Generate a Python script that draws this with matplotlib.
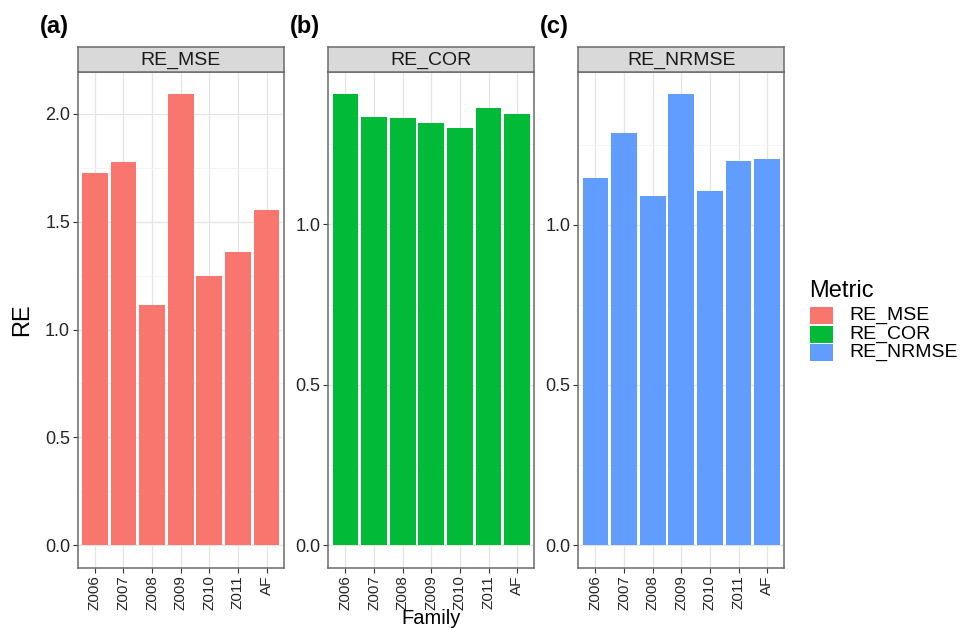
import numpy as np
import matplotlib.pyplot as plt
from matplotlib.patches import Rectangle

# ---- data ----
families = ["Z006", "Z007", "Z008", "Z009", "Z010", "Z011", "AF"]
re_mse = [1.728, 1.776, 1.113, 2.091, 1.249, 1.361, 1.552]
re_cor = [1.406, 1.335, 1.332, 1.317, 1.302, 1.363, 1.343]
re_nrmse = [1.145, 1.287, 1.088, 1.407, 1.106, 1.199, 1.206]
metrics = ["RE_MSE", "RE_COR", "RE_NRMSE"]
colors = ["#F8766D", "#00BA38", "#619CFF"]
panel_tags = ["(a)", "(b)", "(c)"]
major_ticks = [[0.0, 0.5, 1.0, 1.5, 2.0], [0.0, 0.5, 1.0], [0.0, 0.5, 1.0]]

plt.rcParams.update({"font.family": "Liberation Sans"})

W, H = 970, 629
fig = plt.figure(figsize=(W / 100, H / 100), dpi=100)

def fx(px):
    return px / W

def fy(py):
    return 1 - py / H

lefts = [77.7, 328.3, 578.3]
pw = 206.0
p_top, p_bot, s_top = 71.7, 567.7, 47.3
border = "#6b6b6b"

for i, (vals, name, col) in enumerate(zip([re_mse, re_cor, re_nrmse], metrics, colors)):
    ax = fig.add_axes([fx(lefts[i]), fy(p_bot), fx(pw), (p_bot - p_top) / H])
    x = np.arange(len(families))
    ax.bar(x, vals, width=0.9, color=col, zorder=3)
    vmax = max(vals)
    ax.set_ylim(-0.05 * vmax, 1.05 * vmax)
    ax.set_xlim(-0.6, len(families) - 0.4)
    ax.set_xticks(x)
    ax.set_xticklabels(families, rotation=90, fontsize=11, color="#262626")
    ax.set_yticks(major_ticks[i])
    ax.set_yticklabels([f"{t:.1f}" for t in major_ticks[i]], fontsize=13, color="#262626")
    minors = [t + 0.25 for t in major_ticks[i] if t + 0.25 < 1.05 * vmax]
    ax.set_yticks(minors, minor=True)
    ax.tick_params(axis="y", which="minor", length=0)
    ax.tick_params(which="major", length=3.5, width=0.8, color="#333333", pad=2)
    ax.grid(True, which="major", color="#E5E5E5", lw=0.9, zorder=0)
    ax.grid(True, which="minor", axis="y", color="#F2F2F2", lw=0.6, zorder=0)
    for s in ax.spines.values():
        s.set_color(border)
        s.set_linewidth(1.1)
    ax.set_axisbelow(True)

    # facet strip
    sax = fig.add_axes([fx(lefts[i]), fy(p_top), fx(pw), (p_top - s_top) / H])
    sax.set_xticks([]); sax.set_yticks([])
    sax.set_facecolor("#D9D9D9")
    for s in sax.spines.values():
        s.set_color(border)
        s.set_linewidth(1.1)
    sax.text(0.5, 0.48, name, ha="center", va="center", fontsize=14,
             color="#1A1A1A", transform=sax.transAxes)

    fig.text(fx(lefts[i] - 38), fy(27), panel_tags[i], fontsize=17,
             fontweight="bold", ha="left", va="center")

fig.text(fx(22), fy((p_top + p_bot) / 2), "RE", rotation=90, fontsize=17,
         ha="center", va="center")
fig.text(fx((lefts[0] + lefts[2] + pw) / 2), fy(627.5), "Family", fontsize=14.5,
         ha="center", va="bottom")

# legend
fig.text(fx(809), fy(291), "Metric", fontsize=17, ha="left", va="center")
for j, (name, col) in enumerate(zip(metrics, colors)):
    yc = 315.7 + j * 18.3
    fig.patches.append(Rectangle((fx(810), fy(yc + 8.5)), fx(23), 17 / H,
                                 transform=fig.transFigure, facecolor=col,
                                 edgecolor="none"))
    fig.text(fx(849), fy(yc), name, fontsize=14, ha="left", va="center")

fig.savefig("out.png", dpi=100, facecolor="white")
